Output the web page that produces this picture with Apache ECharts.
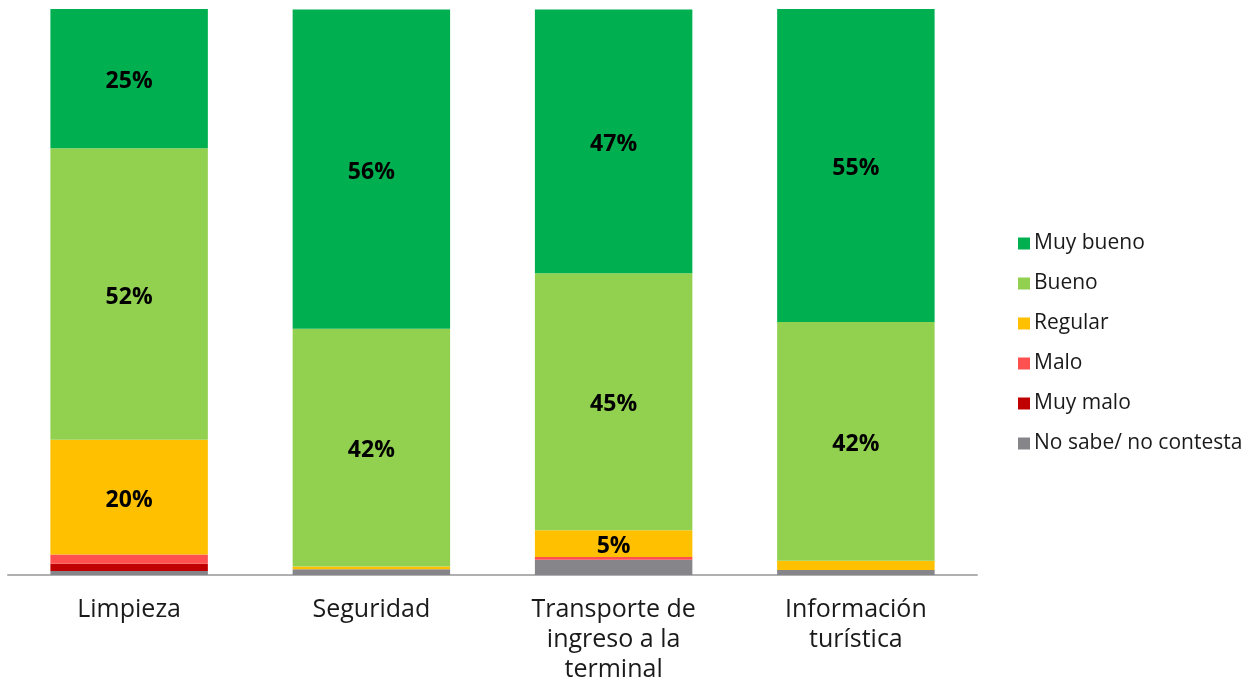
<!DOCTYPE html>
<html>
<head>
<meta charset="utf-8">
<script src="https://cdn.jsdelivr.net/npm/echarts@6/dist/echarts.min.js"></script>
<style>
html,body{margin:0;padding:0;background:#fff;}
#chart{width:1252px;height:681px;}
</style>
</head>
<body>
<div id="chart"></div>
<script>
var categorias = ['Limpieza', 'Seguridad', 'Transporte de\ningreso a la\nterminal', 'Información\nturística'];
var muyBueno = [25.1, 56.4, 46.6, 55.3];
var bueno = [51.5, 42.0, 45.4, 42.2];
var regular = [20.3, 0.5, 4.7, 1.6];
var malo = [1.6, 0, 0.5, 0];
var muyMalo = [1.3, 0, 0, 0];
var noSabe = [0.7, 1.0, 2.7, 0.9];

var fuente = '"Open Sans", Lato, sans-serif';

function serie(nombre, datos, color){
	return {
		name: nombre,
		type: 'bar',
		stack: 'total',
		barCategoryGap: '35%',
		data: datos,
		itemStyle: {color: color},
		label: {
			show: true,
			position: 'inside',
			offset: [0, 3],
			fontFamily: fuente,
			fontWeight: 'bold',
			fontSize: 23,
			color: '#000',
			formatter: function(p){
				return p.value >= 4 ? Math.round(p.value) + '%' : '';
			}
		}
	};
}

var chart = echarts.init(document.getElementById('chart'));
var option = {
	animation: false,
	grid: {left: 8, right: 275, top: 9, bottom: 106, outerBoundsMode: 'none', containLabel: false},
	legend: {
		orient: 'vertical',
		left: 1013,
		top: 228,
		itemWidth: 12,
		itemHeight: 12,
		itemGap: 19,
		icon: 'rect',
		data: ['Muy bueno', 'Bueno', 'Regular', 'Malo', 'Muy malo', 'No sabe/ no contesta'],
		textStyle: {fontFamily: fuente, fontSize: 21, color: '#1a1a1a', lineHeight: 21, padding: [0, 0, 0, -1]}
	},
	xAxis: {
		type: 'category',
		data: categorias,
		axisLine: {lineStyle: {color: '#b0b0b0', width: 2}},
		axisTick: {show: false},
		axisLabel: {fontFamily: fuente, fontSize: 25, color: '#1a1a1a', lineHeight: 30, margin: 20}
	},
	yAxis: {
		type: 'value',
		min: 0,
		max: 100,
		show: false,
		splitLine: {show: false}
	},
	series: [
		serie('No sabe/ no contesta', noSabe, '#85858a'),
		serie('Muy malo', muyMalo, '#c00000'),
		serie('Malo', malo, '#ff5050'),
		serie('Regular', regular, '#ffc000'),
		serie('Bueno', bueno, '#92d050'),
		serie('Muy bueno', muyBueno, '#00b050')
	]
};
chart.setOption(option);
</script>
</body>
</html>
